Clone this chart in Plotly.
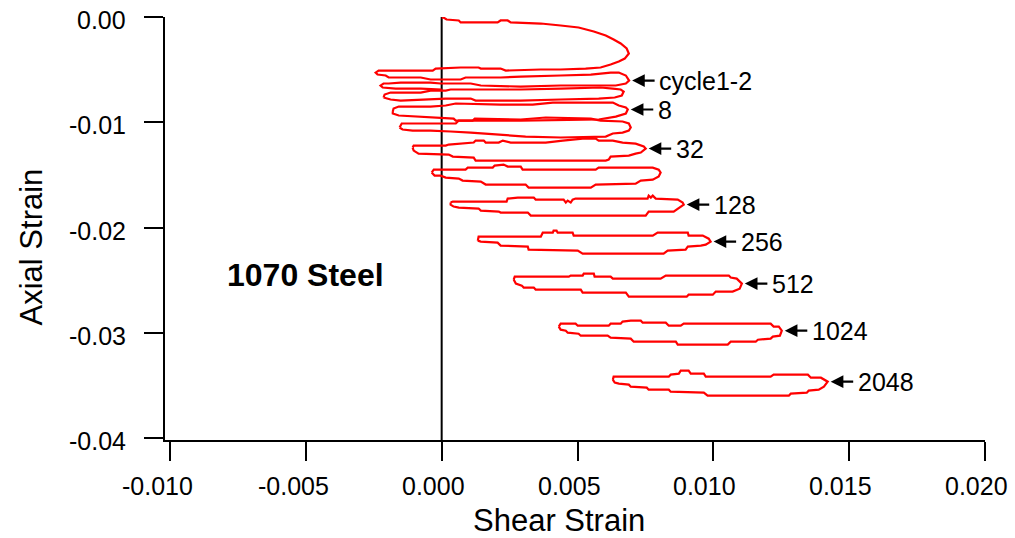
import plotly.graph_objects as go

# Shear / axial strain loops of 1070 steel, recorded at selected cycles.
# Coordinates below are in units of 1e-3 strain.
MILLI = 1e-3

# cycles 1-2: initial loading from the origin followed by two shear reversals
c12_x = [0.00, 0.07, 0.18, 0.63, 0.70, 2.06, 2.17, 2.43, 2.54, 3.65, 4.38, 5.04, 5.60, 6.04,
         6.33, 6.59, 6.81, 6.89, 6.74, 6.52, 6.22, 5.85, 5.30, 4.38, 3.65, 2.36, 2.17, 1.44,
         1.36, 0.70, -0.22, -0.33, -1.51, -2.32, -2.43, -2.36, -2.06, -1.95, -0.77, -0.41,
         0.70, 0.88, 2.17, 2.91, 4.38, 5.49, 6.22, 6.52, 6.78, 6.90, 6.78, 6.41, 5.49, 4.38,
         2.91, 1.44, 1.07, -0.04, -0.41, -1.51, -1.95, -2.14, -2.25, -2.17, -1.69, -0.77, 0.00]
c12_y = [-0.05, -0.05, -0.24, -0.33, -0.52, -0.52, -0.33, -0.33, -0.52, -0.62, -0.81, -1.00,
         -1.38, -1.76, -2.14, -2.52, -2.99, -3.47, -3.95, -4.23, -4.52, -4.80, -4.90, -4.99,
         -4.99, -5.09, -4.90, -4.90, -4.80, -4.80, -4.90, -5.09, -5.09, -5.09, -5.28, -5.47,
         -5.56, -5.75, -5.75, -5.94, -5.94, -5.75, -5.75, -5.66, -5.56, -5.47, -5.28, -5.28,
         -5.56, -6.04, -6.32, -6.51, -6.51, -6.51, -6.61, -6.51, -6.32, -6.32, -6.23, -6.23,
         -6.32, -6.32, -6.51, -6.70, -6.80, -6.80, -6.89]

c4_x = [-2.14, -2.10, -1.88, -0.77, -0.41, 0.15, 0.33, 2.91, 4.38, 5.85, 6.30, 6.59, 6.70,
        6.63, 6.37, 5.78, 4.38, 2.91, 1.25, 1.07, 0.15, -0.77, -1.51, -1.88, -2.14]
c4_y = [-7.65, -7.37, -7.18, -7.18, -6.99, -6.99, -6.89, -6.89, -6.80, -6.70, -6.80, -6.89,
        -7.08, -7.46, -7.65, -7.75, -7.84, -7.94, -7.94, -7.75, -7.75, -7.84, -7.94, -7.84, -7.65]

c8_x = [-1.80, -1.77, -1.58, -0.41, 0.15, 0.52, 2.17, 3.35, 4.09, 6.30, 6.52, 6.78, 6.85,
        6.78, 6.41, 5.78, 2.91, 0.52, 0.44, -0.33, -0.96, -1.58, -1.80, -1.80]
c8_y = [-8.98, -8.70, -8.51, -8.51, -8.41, -8.22, -8.32, -8.32, -8.13, -8.13, -8.41, -8.60,
        -8.79, -9.17, -9.46, -9.74, -9.84, -9.84, -9.65, -9.55, -9.46, -9.36, -9.17, -8.98]

c16_x = [-1.55, -1.47, 0.52, 0.63, 1.14, 1.22, 2.91, 3.83, 5.49, 5.85, 6.66, 6.89, 6.96,
         6.89, 6.66, 6.30, 6.04, 4.38, 3.09, 2.17, 1.62, 1.07, 0.33, -0.41, -1.07, -1.44, -1.55]
c16_y = [-10.50, -10.12, -10.12, -9.84, -9.84, -9.65, -9.74, -9.55, -9.65, -9.84, -9.93,
         -10.12, -10.50, -10.79, -10.98, -11.07, -11.36, -11.45, -11.36, -11.17, -11.07,
         -10.98, -10.88, -10.79, -10.79, -10.69, -10.50]

c32_x = [-1.07, -1.03, 0.15, 0.26, 1.18, 1.25, 1.55, 1.62, 2.10, 2.25, 2.54, 3.83, 4.46,
         5.19, 5.67, 5.78, 6.30, 6.66, 7.14, 7.44, 7.51, 7.40, 7.33, 7.14, 6.89, 6.22, 6.15,
         6.04, 1.25, 1.18, 0.41, 0.26, -0.85, -1.03, -1.07]
c32_y = [-12.41, -12.22, -12.22, -12.12, -11.93, -11.74, -11.74, -11.93, -11.93, -11.74,
         -11.93, -11.93, -11.74, -11.55, -11.55, -11.74, -11.74, -11.93, -12.03, -12.31,
         -12.50, -12.79, -12.88, -12.98, -13.17, -13.26, -13.55, -13.64, -13.64, -13.36,
         -13.26, -13.07, -12.98, -12.69, -12.41]

c64_x = [-0.37, -0.29, 0.88, 0.96, 1.88, 1.95, 2.28, 2.43, 2.91, 2.98, 5.67, 5.78, 7.77,
         7.99, 8.06, 7.99, 7.77, 7.33, 7.14, 5.67, 5.49, 3.20, 3.09, 1.62, 1.44, 0.77, 0.63,
         0.15, -0.04, -0.26, -0.37]
c64_y = [-14.78, -14.50, -14.50, -14.31, -14.31, -14.12, -14.02, -14.21, -14.21, -14.50,
         -14.50, -14.31, -14.31, -14.50, -14.78, -15.16, -15.45, -15.54, -15.83, -15.92,
         -16.21, -16.21, -15.92, -15.92, -15.64, -15.54, -15.35, -15.26, -15.07, -15.07, -14.78]

c128_x = [0.33, 0.41, 2.39, 2.43, 2.80, 3.39, 3.46, 4.49, 4.57, 4.64, 4.75, 4.82, 4.93, 7.58,
          7.62, 7.70, 7.77, 7.84, 7.88, 8.69, 8.87, 8.91, 8.73, 8.62, 8.54, 7.62, 7.51, 3.28,
          3.17, 2.17, 2.10, 1.44, 1.36, 0.63, 0.44, 0.33, 0.33]
c128_y = [-17.63, -17.54, -17.54, -17.25, -17.16, -17.16, -17.35, -17.35, -17.63, -17.44,
          -17.63, -17.35, -17.25, -17.25, -16.97, -17.16, -16.97, -17.16, -17.25, -17.35,
          -17.63, -17.82, -18.11, -18.30, -18.49, -18.49, -18.87, -18.87, -18.58, -18.58,
          -18.49, -18.39, -18.20, -18.11, -18.01, -17.82, -17.63]

c256_x = [1.33, 1.36, 3.65, 3.72, 4.09, 4.12, 4.23, 4.27, 4.82, 4.86, 7.77, 7.95, 9.06, 9.09,
          9.61, 9.83, 9.90, 9.72, 9.54, 9.06, 8.98, 8.32, 8.17, 5.19, 5.01, 3.20, 3.17, 2.17,
          2.06, 1.44, 1.33]
c256_y = [-21.25, -20.87, -20.87, -20.49, -20.49, -20.30, -20.30, -20.49, -20.49, -20.77,
          -20.77, -20.49, -20.49, -20.77, -20.77, -21.06, -21.34, -21.63, -21.72, -21.82,
          -22.10, -22.20, -22.48, -22.48, -22.20, -22.10, -21.82, -21.72, -21.44, -21.34, -21.25]

c512_x = [2.65, 2.69, 4.68, 4.75, 5.19, 5.23, 5.60, 5.63, 6.22, 6.30, 8.06, 8.25, 10.57,
          10.64, 10.86, 11.05, 10.97, 10.71, 10.09, 9.98, 9.09, 9.02, 6.89, 6.78, 5.19, 5.12,
          3.46, 3.39, 3.02, 2.95, 2.73, 2.65]
c512_y = [-24.95, -24.67, -24.67, -24.57, -24.57, -24.38, -24.38, -24.67, -24.67, -24.86,
          -24.86, -24.57, -24.57, -24.76, -24.86, -25.33, -25.81, -26.09, -26.09, -26.38,
          -26.38, -26.57, -26.57, -26.19, -26.19, -25.90, -25.90, -25.71, -25.71, -25.52,
          -25.33, -24.95]

c1024_x = [4.31, 4.38, 4.93, 5.01, 6.15, 6.22, 6.59, 6.66, 6.96, 7.33, 7.40, 8.25, 8.36, 8.80,
           8.91, 12.11, 12.22, 12.41, 12.52, 12.45, 12.19, 12.11, 11.64, 11.56, 10.64, 10.53,
           8.69, 8.62, 7.07, 6.96, 6.22, 6.11, 5.12, 5.04, 4.64, 4.57, 4.38, 4.31]
c1024_y = [-29.42, -29.14, -29.14, -29.33, -29.33, -29.14, -29.14, -28.94, -28.85, -28.85,
           -29.04, -29.04, -29.33, -29.33, -29.14, -29.14, -29.42, -29.42, -29.80, -30.28,
           -30.37, -30.56, -30.66, -30.85, -30.85, -31.13, -31.13, -30.85, -30.85, -30.56,
           -30.47, -30.28, -30.28, -30.09, -29.99, -29.80, -29.71, -29.42]

c2048_x = [6.30, 6.33, 8.36, 8.43, 8.73, 8.80, 9.09, 9.17, 9.65, 9.72, 12.11, 12.22, 13.48,
           13.59, 13.96, 14.21, 14.07, 13.88, 13.51, 13.44, 12.85, 12.78, 9.79, 9.65, 8.43,
           8.36, 7.62, 7.55, 6.96, 6.89, 6.52, 6.37, 6.30]
c2048_y = [-34.46, -34.17, -34.17, -33.98, -33.89, -33.60, -33.60, -33.89, -33.89, -34.17,
           -34.17, -33.98, -33.98, -34.27, -34.27, -34.65, -35.12, -35.41, -35.50, -35.69,
           -35.79, -35.98, -35.98, -35.69, -35.60, -35.41, -35.41, -35.22, -35.12, -34.93,
           -34.84, -34.74, -34.46]

cycle_names = ["cycle1-2", "4", "8", "16", "32", "64", "128", "256", "512", "1024", "2048"]
cycle_x = [c12_x, c4_x, c8_x, c16_x, c32_x, c64_x, c128_x, c256_x, c512_x, c1024_x, c2048_x]
cycle_y = [c12_y, c4_y, c8_y, c16_y, c32_y, c64_y, c128_y, c256_y, c512_y, c1024_y, c2048_y]
labelled_cycles = ["cycle1-2", "8", "32", "128", "256", "512", "1024", "2048"]

x_tickvals = [-0.010, -0.005, 0.0, 0.005, 0.010, 0.015, 0.020]
x_ticktext = ["-0.010", "-0.005", "0.000", "0.005", "0.010", "0.015", "0.020"]
y_tickvals = [0.0, -0.01, -0.02, -0.03, -0.04]
y_ticktext = ["0.00", "-0.01", "-0.02", "-0.03", "-0.04"]

FONT = "Arial, 'Liberation Sans', sans-serif"
RED = "#ff0000"
X_RANGE = [-0.010184, 0.020]
Y_RANGE = [-0.04019, 0.0]

fig = go.Figure()

for name, xs, ys in zip(cycle_names, cycle_x, cycle_y):
    fig.add_trace(go.Scatter(
        x=[v * MILLI for v in xs], y=[v * MILLI for v in ys],
        mode="lines", name=name,
        line=dict(color=RED, width=2.2),
        hoverinfo="skip", showlegend=False,
    ))

# zero shear reference line
fig.add_shape(type="line", xref="x", yref="paper", x0=0, x1=0, y0=0, y1=1,
              line=dict(color="black", width=2), layer="below")

# arrows pointing at the right-hand tip of the labelled loops
for name in labelled_cycles:
    i = cycle_names.index(name)
    xs, ys = cycle_x[i], cycle_y[i]
    k = max(range(len(xs)), key=lambda j: (xs[j], -j))
    tx, ty = xs[k] * MILLI, ys[k] * MILLI
    fig.add_annotation(x=tx, y=ty, xref="x", yref="y", text="",
                       showarrow=True, ax=27, ay=0, axref="pixel", ayref="pixel",
                       arrowhead=2, arrowsize=1.15, arrowwidth=2.2, arrowcolor="black",
                       standoff=3)
    fig.add_annotation(x=tx, y=ty, xref="x", yref="y", text=name, showarrow=False,
                       xanchor="left", yanchor="middle", xshift=28,
                       font=dict(family=FONT, size=25, color="black"))

fig.add_annotation(x=-0.00503, y=-0.02448, xref="x", yref="y", text="<b>1070 Steel</b>",
                   showarrow=False, xanchor="center", yanchor="middle",
                   font=dict(family=FONT, size=32, color="black"))

# tick labels, right-aligned next to their ticks
for v, t in zip(x_tickvals, x_ticktext):
    fig.add_annotation(x=v, y=-0.1087, xref="x", yref="paper", text=t, showarrow=False,
                       xanchor="right", yanchor="middle", xshift=25,
                       font=dict(family=FONT, size=25, color="black"))
for v, t in zip(y_tickvals, y_ticktext):
    fig.add_annotation(x=-0.0451, y=v, xref="paper", yref="y", text=t, showarrow=False,
                       xanchor="right", yanchor="middle", yshift=-3,
                       font=dict(family=FONT, size=25, color="black"))

# axis titles
fig.add_annotation(x=0.4805, y=-0.19, xref="paper", yref="paper", text="Shear Strain",
                   showarrow=False, xanchor="center", yanchor="middle",
                   font=dict(family=FONT, size=31, color="black"))
fig.add_annotation(x=-0.163, y=0.456, xref="paper", yref="paper", text="Axial Strain",
                   showarrow=False, xanchor="center", yanchor="middle", textangle=-90,
                   font=dict(family=FONT, size=31, color="black"))

fig.update_xaxes(range=X_RANGE, tickvals=x_tickvals, showticklabels=False,
                 showgrid=False, zeroline=False, showline=True, linecolor="black", linewidth=2,
                 ticks="outside", ticklen=19, tickwidth=2, tickcolor="black")
fig.update_yaxes(range=Y_RANGE, tickvals=y_tickvals, showticklabels=False,
                 showgrid=False, zeroline=False, showline=True, linecolor="black", linewidth=2,
                 ticks="outside", ticklen=19, tickwidth=2, tickcolor="black")

fig.update_layout(width=1015, height=538,
                  margin=dict(l=165, r=30, t=17, b=98, pad=0),
                  plot_bgcolor="white", paper_bgcolor="white",
                  showlegend=False)

fig.write_html("out.html", config={"displayModeBar": False})
